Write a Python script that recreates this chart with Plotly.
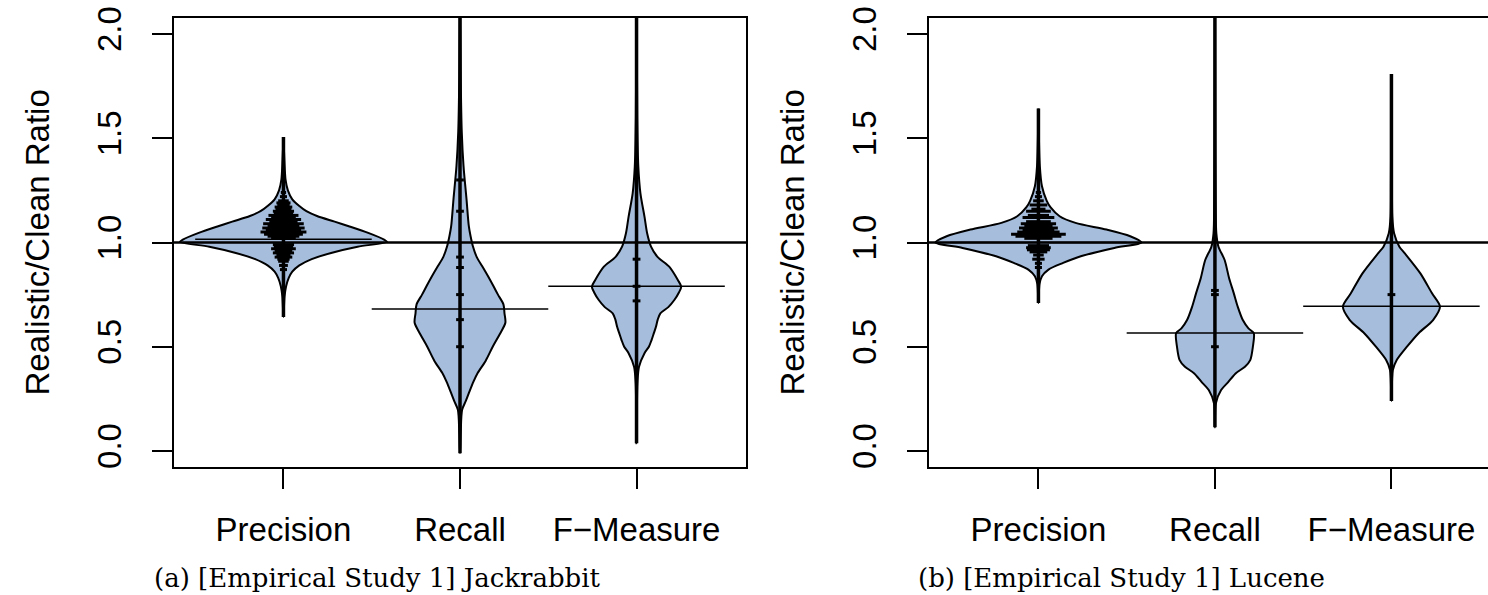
import plotly.graph_objects as go

W, H = 1488, 595

# ---------------- data ----------------
categories = ["Precision", "Recall", "F\u2212Measure"]
y_tick_vals = [0.0, 0.5, 1.0, 1.5, 2.0]
y_tick_text = ["0.0", "0.5", "1.0", "1.5", "2.0"]
captions = ["(a) [Empirical Study 1] Jackrabbit", "(b) [Empirical Study 1] Lucene"]
y_title = "Realistic/Clean Ratio"

# Panel (a) Jackrabbit: bean density outlines (y level, half width in category units)
jr_prec_y = [0.643, 0.74, 0.79, 0.83, 0.86, 0.89, 0.92, 0.95, 0.98, 1.003, 1.014, 1.046, 1.078, 1.10, 1.127, 1.15, 1.175, 1.207, 1.25, 1.30, 1.40, 1.506]
jr_prec_w = [0.0, 0.006, 0.015, 0.03, 0.05, 0.09, 0.16, 0.27, 0.42, 0.587, 0.57, 0.48, 0.37, 0.29, 0.19, 0.13, 0.09, 0.05, 0.025, 0.012, 0.005, 0.0]
jr_rec_y = [-0.011, 0.085, 0.197, 0.24, 0.277, 0.33, 0.374, 0.432, 0.501, 0.56, 0.615, 0.66, 0.703, 0.75, 0.79, 0.838, 0.886, 0.93, 0.982, 1.03, 1.078, 1.207, 1.367, 1.53, 1.8, 2.3]
jr_rec_w = [0.0, 0.004, 0.012, 0.033, 0.05, 0.075, 0.10, 0.145, 0.186, 0.225, 0.257, 0.252, 0.246, 0.215, 0.19, 0.159, 0.126, 0.095, 0.073, 0.06, 0.05, 0.037, 0.02, 0.01, 0.004, 0.0]
jr_f_y = [0.037, 0.2, 0.325, 0.404, 0.469, 0.50, 0.532, 0.565, 0.596, 0.63, 0.66, 0.69, 0.724, 0.76, 0.788, 0.82, 0.884, 0.93, 0.98, 1.044, 1.124, 1.236, 1.364, 1.6, 2.3]
jr_f_w = [0.0, 0.002, 0.005, 0.014, 0.045, 0.07, 0.085, 0.098, 0.11, 0.12, 0.135, 0.18, 0.214, 0.24, 0.253, 0.234, 0.185, 0.12, 0.082, 0.06, 0.045, 0.022, 0.01, 0.004, 0.0]
jr_means = [1.015, 0.681, 0.790]
jr_min = [0.643, -0.011, 0.037]
jr_max = [1.506, 2.3, 2.3]
# individual observation lines (beanlines) in the Precision bean
jr_strip_y = [1.24, 1.22, 1.20, 1.19, 1.18, 1.17, 1.16, 1.15, 1.14, 1.13, 1.12, 1.11, 1.10, 1.09, 1.08, 1.07, 1.06, 1.05, 1.04, 1.03, 1.02, 0.99, 0.98, 0.97, 0.96, 0.95, 0.94, 0.93, 0.92, 0.91, 0.89, 0.87]
jr_strip_w = [0.015, 0.02, 0.03, 0.04, 0.035, 0.05, 0.045, 0.06, 0.055, 0.085, 0.07, 0.10, 0.08, 0.115, 0.09, 0.12, 0.10, 0.13, 0.11, 0.09, 0.07, 0.06, 0.055, 0.07, 0.05, 0.06, 0.04, 0.05, 0.035, 0.03, 0.025, 0.02]
jr_rec_pts = [0.50, 0.63, 0.75, 0.88, 0.93, 1.15, 1.3]
jr_f_pts = [0.72, 0.79, 0.92]

# Panel (b) Lucene
lu_prec_y = [0.71, 0.80, 0.838, 0.87, 0.902, 0.934, 0.974, 1.0, 1.03, 1.062, 1.094, 1.126, 1.17, 1.20, 1.27, 1.366, 1.643]
lu_prec_w = [0.0, 0.006, 0.02, 0.057, 0.14, 0.24, 0.43, 0.584, 0.52, 0.386, 0.21, 0.12, 0.068, 0.047, 0.02, 0.008, 0.0]
lu_rec_y = [0.113, 0.228, 0.292, 0.33, 0.372, 0.404, 0.436, 0.50, 0.565, 0.588, 0.628, 0.69, 0.756, 0.83, 0.916, 0.98, 1.044, 1.2, 1.5, 2.3]
lu_rec_w = [0.0, 0.005, 0.035, 0.075, 0.117, 0.17, 0.20, 0.215, 0.22, 0.19, 0.158, 0.13, 0.107, 0.08, 0.055, 0.02, 0.008, 0.004, 0.002, 0.0]
lu_f_y = [0.24, 0.388, 0.436, 0.50, 0.565, 0.628, 0.692, 0.756, 0.852, 0.948, 0.98, 1.044, 1.124, 1.3, 1.808]
lu_f_w = [0.0, 0.008, 0.03, 0.088, 0.154, 0.236, 0.275, 0.23, 0.164, 0.076, 0.045, 0.015, 0.005, 0.003, 0.0]
lu_means = [1.0, 0.566, 0.694]
lu_min = [0.71, 0.114, 0.24]
lu_max = [1.643, 2.3, 1.808]
lu_strip_y = [1.24, 1.22, 1.20, 1.18, 1.16, 1.15, 1.13, 1.12, 1.10, 1.09, 1.08, 1.07, 1.06, 1.05, 1.04, 1.03, 1.02, 0.985, 0.975, 0.965, 0.955, 0.94, 0.92, 0.90, 0.88]
lu_strip_w = [0.015, 0.02, 0.03, 0.05, 0.04, 0.07, 0.06, 0.09, 0.07, 0.10, 0.08, 0.11, 0.09, 0.12, 0.155, 0.13, 0.08, 0.06, 0.07, 0.065, 0.05, 0.03, 0.035, 0.02, 0.02]
lu_rec_pts = [0.75, 0.77, 0.50]
lu_f_pts = [0.75]

# ---------------- styling ----------------
FILL = "#A6BDDC"
SANS = "Liberation Sans, Arial, Helvetica, sans-serif"
SERIF = "DejaVu Serif, serif"
FS = 33

fig = go.Figure()


def add_panel(xa, ya, outlines, means, mins, maxs, strip_y, strip_w, extra_pts):
    for i, (ys, ws) in enumerate(outlines):
        c = i + 1
        xs = [c - w for w in ws] + [c + w for w in reversed(ws)]
        yy = list(ys) + list(reversed(ys))
        fig.add_trace(go.Scatter(x=xs, y=yy, mode="lines", fill="toself", fillcolor=FILL,
                                 line=dict(color="black", width=2, shape="spline", smoothing=0.8),
                                 xaxis=xa, yaxis=ya, hoverinfo="skip", showlegend=False))
    # dense observation lines along the centre of each bean
    for i in range(3):
        c = i + 1
        fig.add_trace(go.Scatter(x=[c, c], y=[mins[i], maxs[i]], mode="lines",
                                 line=dict(color="black", width=3.5),
                                 xaxis=xa, yaxis=ya, hoverinfo="skip", showlegend=False))
    sx, sy = [], []
    for y, w in zip(strip_y, strip_w):
        sx += [1 - w, 1 + w, None]
        sy += [y, y, None]
    for j, pts in enumerate(extra_pts):
        c = j + 2
        for y in pts:
            sx += [c - 0.022, c + 0.022, None]
            sy += [y, y, None]
    fig.add_trace(go.Scatter(x=sx, y=sy, mode="lines", line=dict(color="black", width=3),
                             xaxis=xa, yaxis=ya, hoverinfo="skip", showlegend=False))
    # mean lines
    mx, my = [], []
    for i, m in enumerate(means):
        c = i + 1
        mx += [c - 0.5, c + 0.5, None]
        my += [m, m, None]
    fig.add_trace(go.Scatter(x=mx, y=my, mode="lines", line=dict(color="black", width=1.5),
                             xaxis=xa, yaxis=ya, hoverinfo="skip", showlegend=False))


add_panel("x", "y",
          [(jr_prec_y, jr_prec_w), (jr_rec_y, jr_rec_w), (jr_f_y, jr_f_w)],
          jr_means, jr_min, jr_max, jr_strip_y, jr_strip_w, [jr_rec_pts, jr_f_pts])
add_panel("x2", "y2",
          [(lu_prec_y, lu_prec_w), (lu_rec_y, lu_rec_w), (lu_f_y, lu_f_w)],
          lu_means, lu_min, lu_max, lu_strip_y, lu_strip_w, [lu_rec_pts, lu_f_pts])

# pixel geometry of the plotting boxes
box_top, box_bot = 18, 467
ydom = [(H - box_bot) / H, (H - box_top) / H]
px_per_unit = 176.5
x1_left, x1_right = 174, 746
x2_left = 929

common_x = dict(tickvals=[1, 2, 3], ticktext=categories, ticks="outside", ticklen=20, tickwidth=2,
                tickcolor="black", showline=True, linewidth=2, linecolor="black", mirror=True,
                showgrid=False, zeroline=False, tickfont=dict(family=SANS, size=FS, color="black"),
                ticklabelstandoff=12, fixedrange=True, automargin=False)
common_y = dict(tickvals=y_tick_vals, ticktext=y_tick_text, ticks="outside", ticklen=20, tickwidth=2,
                tickcolor="black", showline=True, linewidth=2, linecolor="black",
                showgrid=False, zeroline=False, tickangle=-90, range=[-0.077, 2.077],
                tickfont=dict(family=SANS, size=FS, color="black"), ticklabelstandoff=18, fixedrange=True,
                domain=ydom, automargin=False)

fig.update_layout(
    width=W, height=H, margin=dict(l=0, r=0, t=0, b=0, autoexpand=False),
    paper_bgcolor="white", plot_bgcolor="white", showlegend=False,
    xaxis=dict(domain=[x1_left / W, x1_right / W], range=[0.38, 3.62], anchor="y", **common_x),
    yaxis=dict(anchor="x", mirror=True, **common_y),
    xaxis2=dict(domain=[x2_left / W, 1.0], range=[0.38, 0.38 + (W - x2_left) / px_per_unit], anchor="y2", **common_x),
    yaxis2=dict(anchor="x2", mirror=False, **common_y),
)

# reference line at ratio 1
for xr, yr in (("x domain", "y"), ("x2 domain", "y2")):
    fig.add_shape(type="line", xref=xr, yref=yr, x0=0, x1=1, y0=1, y1=1,
                  line=dict(color="black", width=2.5))

# y-axis titles and captions
for k, off in enumerate((0, x2_left - x1_left)):
    fig.add_annotation(text=y_title, xref="paper", yref="paper", x=(37 + off) / W,
                       y=(H - (box_top + box_bot) / 2) / H, textangle=-90, showarrow=False,
                       xanchor="center", yanchor="middle", font=dict(family=SANS, size=FS, color="black"))
cap_centers = [377.5, 1121]
for k in range(2):
    fig.add_annotation(text=captions[k], xref="paper", yref="paper", x=cap_centers[k] / W,
                       y=(H - 578) / H, showarrow=False, xanchor="center", yanchor="middle",
                       font=dict(family=SERIF, size=26, color="black"))

fig.write_html("out.html", config={"displayModeBar": False},
               post_script="document.body.style.margin='0px';document.body.style.overflow='hidden';")
